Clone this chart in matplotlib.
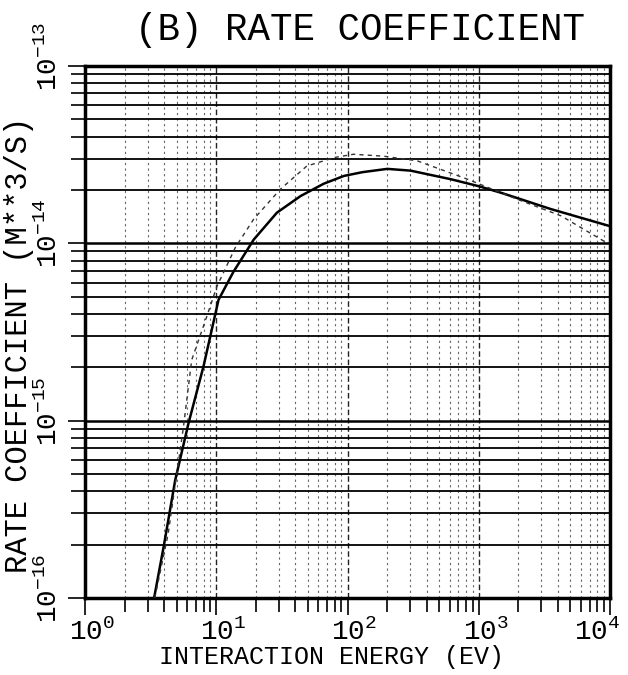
import numpy as np
import matplotlib.pyplot as plt
from matplotlib.ticker import FixedLocator, LogFormatterMathtext, NullFormatter
from matplotlib.transforms import ScaledTranslation

plt.rcParams['font.family'] = ['Liberation Mono', 'DejaVu Sans Mono', 'DejaVu Sans']
plt.rcParams['mathtext.default'] = 'regular'

# solid curve
e_solid = [3.36, 4.0, 4.86, 6.15, 8.0, 10.4, 13.5, 19.3, 29, 44, 66, 94, 130, 201, 303, 611, 1000, 1473, 3548, 10000]
k_solid = [1e-16, 2.0e-16, 4.6e-16, 9.7e-16, 2.03e-15, 4.8e-15, 6.9e-15, 1.05e-14, 1.49e-14, 1.85e-14,
           2.17e-14, 2.4e-14, 2.52e-14, 2.63e-14, 2.57e-14, 2.3e-14, 2.1e-14, 1.93e-14, 1.56e-14, 1.25e-14]

# dashed curve
e_dash = [3.4, 4.3, 5.0, 5.63, 6.5, 8.5, 10.1, 14, 19.3, 30.8, 49, 80, 111, 189, 340, 820, 1974, 4227, 9600]
k_dash = [1e-16, 2.3e-16, 5e-16, 9.3e-16, 2.2e-15, 3.9e-15, 5.7e-15, 9.5e-15, 1.37e-14, 2.02e-14,
          2.73e-14, 3.05e-14, 3.18e-14, 3.1e-14, 2.92e-14, 2.3e-14, 1.77e-14, 1.43e-14, 1.0e-14]

x_decades = [1, 10, 100, 1000, 10000]
y_decades = [1e-16, 1e-15, 1e-14, 1e-13]

fig = plt.figure(figsize=(6.28, 6.75), dpi=100)
ax = fig.add_axes([0.1354, 0.1141, 0.8359, 0.7881])

ax.set_xscale('log')
ax.set_yscale('log')
ax.set_xlim(x_decades[0], x_decades[-1])
ax.set_ylim(y_decades[0], y_decades[-1])

subs = np.arange(2, 10)
ax.xaxis.set_major_locator(FixedLocator(x_decades))
ax.xaxis.set_minor_locator(FixedLocator([d * s for d in x_decades[:-1] for s in subs]))
ax.yaxis.set_major_locator(FixedLocator(y_decades))
ax.yaxis.set_minor_locator(FixedLocator([d * s for d in y_decades[:-1] for s in subs]))
ax.xaxis.set_major_formatter(LogFormatterMathtext())
ax.yaxis.set_major_formatter(LogFormatterMathtext())
ax.xaxis.set_minor_formatter(NullFormatter())
ax.yaxis.set_minor_formatter(NullFormatter())

# graph paper style grid
ax.grid(True, axis='y', which='major', color='black', lw=1.8, ls='-')
ax.grid(True, axis='y', which='minor', color='black', lw=1.3, ls='-')
ax.grid(True, axis='x', which='major', color='#222222', lw=1.0, ls=(0, (4, 2)))
ax.grid(True, axis='x', which='minor', color='#666666', lw=0.8, ls=(0, (2, 3)))
ax.set_axisbelow(True)

ax.plot(e_solid, k_solid, color='black', lw=1.8, zorder=3)
ax.plot(e_dash, k_dash, color='#333333', lw=1.0, ls=(0, (3, 3)), zorder=3)

for s in ax.spines.values():
    s.set_linewidth(2.5)

ax.tick_params(which='both', direction='out', width=1.2, color='black')
ax.tick_params(which='major', length=12)
ax.tick_params(which='minor', length=10)
ax.tick_params(axis='x', which='major', labelsize=20, pad=3)
ax.tick_params(axis='y', which='major', labelsize=20, pad=4, labelrotation=90)

# centre the "10" on the tick, exponent hangs off to the side
xlabs = ax.get_xticklabels()
for lab in xlabs[:-1]:
    lab.set_transform(lab.get_transform() + ScaledTranslation(5 / 72, 0, fig.dpi_scale_trans))
# last one pulled in so it stays on the page
xlabs[-1].set_transform(xlabs[-1].get_transform() + ScaledTranslation(-9 / 72, 0, fig.dpi_scale_trans))
for lab in ax.get_yticklabels():
    lab.set_va('center')
    lab.set_transform(lab.get_transform() + ScaledTranslation(0, 7 / 72, fig.dpi_scale_trans))

fig.text(0.573, 0.955, '(B) RATE COEFFICIENT', ha='center', va='center', fontsize=27)
fig.text(0.03, 0.489, 'RATE COEFFICIENT (M**3/S)', ha='center', va='center',
         rotation=90, fontsize=22)
fig.text(0.528, 0.027, 'INTERACTION ENERGY (EV)', ha='center', va='center', fontsize=18)

fig.savefig('out.png', dpi=100)
